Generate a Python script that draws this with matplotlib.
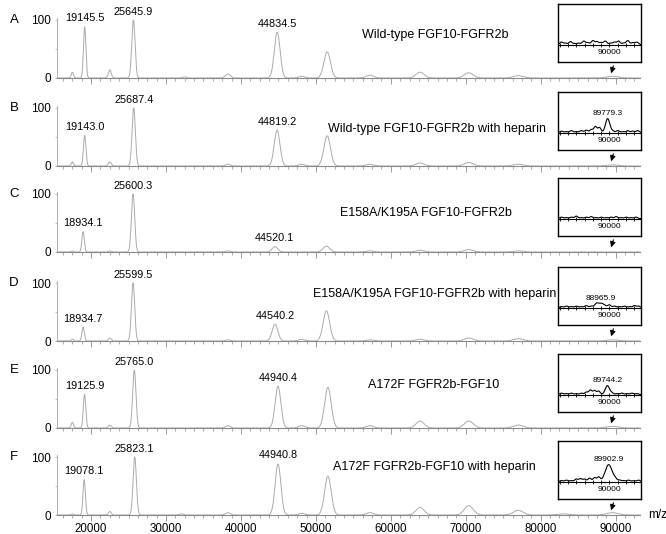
import numpy as np
import matplotlib
matplotlib.use('Agg')
import matplotlib.pyplot as plt
from matplotlib.ticker import MultipleLocator, FixedLocator

plt.rcParams['font.family'] = ['Liberation Sans', 'DejaVu Sans']

# ---------------- data ----------------
panel_letters = ['A', 'B', 'C', 'D', 'E', 'F']
titles = ['Wild-type FGF10-FGFR2b',
          'Wild-type FGF10-FGFR2b with heparin',
          'E158A/K195A FGF10-FGFR2b',
          'E158A/K195A FGF10-FGFR2b with heparin',
          'A172F FGFR2b-FGF10',
          'A172F FGFR2b-FGF10 with heparin']

# main spectra: peak m/z and relative intensity (%)
mz_A = [17500, 19145.5, 22500, 25645.9, 32500, 38250, 44834.5, 48100, 51500, 57200, 63900, 70400, 77000, 89600]
int_A = [10, 88, 14, 100, 2, 7, 79, 3, 45, 5, 10, 9, 4, 3]
mz_B = [17500, 19143.0, 22500, 25687.4, 38250, 44819.2, 48100, 51500, 57200, 63900, 70400, 77000, 89600]
int_B = [7, 53, 7, 100, 3, 62, 3, 52, 3, 5, 6, 3, 2]
mz_C = [17500, 18934.1, 22500, 25600.3, 38250, 44520.1, 51400, 57200, 63900, 70400, 77000]
int_C = [2, 35, 2, 100, 2, 9, 10, 2, 3, 4, 2]
mz_D = [17500, 18934.7, 22500, 25599.5, 38250, 44540.2, 48100, 51400, 57200, 63900, 70400, 77000, 89600]
int_D = [3, 24, 5, 100, 2, 29, 3, 52, 2, 3, 5, 4, 2]
mz_E = [17500, 19125.9, 22500, 25765.0, 38250, 44940.4, 48100, 51600, 57200, 63900, 70400, 77000, 89600]
int_E = [10, 58, 5, 100, 4, 72, 4, 70, 4, 12, 12, 5, 3]
mz_F = [17500, 19078.1, 22500, 25823.1, 32000, 38250, 44940.8, 48100, 51600, 57200, 63900, 70400, 77000, 83000, 89600]
int_F = [2, 61, 6, 100, 2, 4, 88, 3, 67, 4, 13, 16, 8, 2, 4]

# labelled peaks
lab_A = [19145.5, 25645.9, 44834.5]
lab_B = [19143.0, 25687.4, 44819.2]
lab_C = [18934.1, 25600.3, 44520.1]
lab_D = [18934.7, 25599.5, 44540.2]
lab_E = [19125.9, 25765.0, 44940.4]
lab_F = [19078.1, 25823.1, 44940.8]

# insets (zoom near 90000): small baseline bumps (m/z, height in pixel-scale units)
ins_mz_A = [84200, 84700, 85300, 85800, 86300, 86900, 87400, 88000, 88500, 89000, 89500, 90100, 90600, 91100, 91700, 92200, 92800, 93300]
ins_int_A = [2.5, 1.5, 3, 1, 1.5, 3.5, 2, 4, 3, 2, 3.5, 1.5, 2.5, 3.5, 1.5, 4, 2, 2.5]
ins_mz_B = [84200, 84800, 85400, 86000, 86600, 87200, 87800, 88300, 88800, 90400, 91000, 91600, 92200, 92800, 93400]
ins_int_B = [1.5, 1, 2, 1, 2, 2.5, 3, 6, 5, 1.5, 2, 1, 2, 1.5, 2]
ins_mz_C = [84200, 84800, 85400, 86000, 86600, 87200, 87800, 88400, 89000, 89600, 90200, 90800, 91400, 92000, 92600, 93200]
ins_int_C = [1.5, 1, 1.5, 2.5, 1, 1.5, 2, 1, 1.5, 1, 1.5, 2, 1, 1.5, 1, 1.5]
ins_mz_D = [84200, 84800, 85400, 86000, 86600, 87200, 87800, 88400, 90000, 90600, 91200, 91800, 92400, 93000, 93500]
ins_int_D = [1, 1.5, 1, 1.5, 1, 2, 1.5, 2.5, 2.5, 1.5, 1, 1.5, 1, 2, 1.5]
ins_mz_E = [84200, 84800, 85400, 86000, 86600, 87200, 87700, 88200, 88700, 90300, 90900, 91500, 92100, 92700, 93300]
ins_int_E = [1.5, 1, 1.5, 1, 1.5, 2.5, 4.5, 4, 3.5, 1.5, 1, 1.5, 1, 1.5, 1]
ins_mz_F = [84200, 84800, 85400, 86000, 86500, 87000, 87600, 88200, 88700, 90700, 91200, 91700, 92300, 92900, 93500]
ins_int_F = [1, 1.5, 1, 2.5, 3, 2.5, 3.5, 4, 4.5, 2, 1.5, 1, 1.5, 1, 1.5]
# insets: labelled main peak (m/z, height, width)
ins_peak_mz = [None, 89779.3, None, 88965.9, 89744.2, 89902.9]
ins_peak_int = [0, 14, 0, 4.5, 9, 17]
ins_peak_w = [1, 260, 1, 450, 260, 420]

x_ticks = [20000, 30000, 40000, 50000, 60000, 70000, 80000, 90000]

mz_list = [mz_A, mz_B, mz_C, mz_D, mz_E, mz_F]
int_list = [int_A, int_B, int_C, int_D, int_E, int_F]
lab_list = [lab_A, lab_B, lab_C, lab_D, lab_E, lab_F]
ins_mz_list = [ins_mz_A, ins_mz_B, ins_mz_C, ins_mz_D, ins_mz_E, ins_mz_F]
ins_int_list = [ins_int_A, ins_int_B, ins_int_C, ins_int_D, ins_int_E, ins_int_F]

# ---------------- layout ----------------
W, H = 666, 534
fig = plt.figure(figsize=(W / 100, H / 100), dpi=100)

baselines = [78, 166, 252, 341, 428, 515]   # pixel rows of 0 level
unit_h = 58                                  # pixels from 0 to 100
ax_left, ax_right = 57, 640
XMIN, XMAX = 15450, 93250
YTOP = 108

title_pos = [(362, 35), (328, 129), (340, 213), (313, 294), (368, 385), (333, 467)]

grey_line = '#ababab'
axis_grey = '#8a8a8a'


def fx(px):
    return px / W


def fy(py):
    return 1 - py / H


def spectrum(x, mz, inten, rel_w):
    y = np.zeros(len(x), dtype=float)
    for m, h in zip(mz, inten):
        s = rel_w * m
        y += h * np.exp(-0.5 * ((x - m) / s) ** 2)
    return y


def bumps(x, mz, inten, s):
    y = np.zeros(len(x), dtype=float)
    for m, h in zip(mz, inten):
        y += h * np.exp(-0.5 * ((x - m) / s) ** 2)
    return y


x = np.linspace(XMIN, XMAX, 8000)

for i in range(6):
    b = baselines[i]
    top_px = b - unit_h * YTOP / 100
    ax = fig.add_axes([fx(ax_left), fy(b), fx(ax_right - ax_left), (b - top_px) / H])
    ax.set_xlim(XMIN, XMAX)
    ax.set_ylim(0, YTOP)
    y = spectrum(x, mz_list[i], int_list[i], 0.0085)
    ax.plot(x, y, color=grey_line, lw=0.7, clip_on=False)

    for s in ['top', 'right']:
        ax.spines[s].set_visible(False)
    ax.spines['left'].set_color('#b0b0b0')
    ax.spines['left'].set_linewidth(0.7)
    ax.spines['left'].set_bounds(0, 104)
    ax.spines['bottom'].set_color(axis_grey)
    ax.spines['bottom'].set_linewidth(0.8)

    ax.yaxis.set_major_locator(FixedLocator([0, 50, 100]))
    ax.set_yticklabels(['0', '', '100'], fontsize=8.5)
    ax.tick_params(axis='y', length=1.5, width=0.6, color='#b0b0b0', pad=3)

    ax.xaxis.set_major_locator(FixedLocator(x_ticks))
    ax.xaxis.set_minor_locator(MultipleLocator(1250))
    ax.tick_params(axis='x', which='major', length=4, width=0.6, color=axis_grey, labelsize=8.3, pad=2)
    ax.tick_params(axis='x', which='minor', length=2, width=0.5, color=axis_grey)
    if i < 5:
        ax.set_xticklabels([])
    else:
        ax.set_xticklabels([str(t) for t in x_ticks])

    # peak labels
    for m in lab_list[i]:
        idx = int(np.argmin(np.abs(np.array(mz_list[i]) - m)))
        h = int_list[i][idx]
        ax.annotate(f'{m:.1f}', xy=(m, h), xytext=(0, 2.5), textcoords='offset points',
                    ha='center', va='bottom', fontsize=7.8, annotation_clip=False)

    # letters & titles
    fig.text(fx(14), fy(b - unit_h), panel_letters[i], ha='center', va='center', fontsize=9.5)
    tx, ty = title_pos[i]
    fig.text(fx(tx), fy(ty), titles[i], ha='left', va='center', fontsize=9)

    # arrow below the inset box
    ax.annotate('', xy=(89400, 8), xytext=(89700, 21),
                arrowprops=dict(arrowstyle='-|>', color='black', lw=0.8,
                                mutation_scale=8, shrinkA=0, shrinkB=0),
                annotation_clip=False)

    # inset
    box_top = b - 74
    box_bot = b - 16
    bl, br = 558, 641
    axi = fig.add_axes([fx(bl), fy(box_bot), fx(br - bl), (box_bot - box_top) / H])
    IXMIN, IXMAX = 83800, 93800
    f0 = 0.3
    hpx = box_bot - box_top
    axi.set_xlim(IXMIN, IXMAX)
    axi.set_ylim(-f0 * hpx, (1 - f0) * hpx)
    xi = np.linspace(IXMIN, IXMAX, 1500)
    yi = bumps(xi, ins_mz_list[i], ins_int_list[i], 190)
    if ins_peak_mz[i] is not None:
        yi += bumps(xi, [ins_peak_mz[i]], [ins_peak_int[i]], ins_peak_w[i])
    axi.plot(xi, yi, color='black', lw=0.8)
    axi.set_xticks([])
    axi.set_yticks([])
    for s in axi.spines.values():
        s.set_linewidth(1.0)
        s.set_color('black')
    sec = axi.secondary_xaxis(f0)
    sec.set_xticks([90000])
    sec.set_xticklabels(['90000'])
    sec.xaxis.set_minor_locator(MultipleLocator(1000))
    sec.tick_params(which='major', direction='inout', length=3, width=0.6, labelsize=6, pad=1.5)
    sec.tick_params(which='minor', direction='inout', length=3, width=0.6)
    sec.spines['bottom'].set_linewidth(0.8)
    if ins_peak_mz[i] is not None:
        lm = ins_peak_mz[i]
        hh = float(np.interp(lm, xi, yi))
        axi.annotate(f'{lm:.1f}', xy=(lm, hh), xytext=(0, 1), textcoords='offset points',
                     ha='center', va='bottom', fontsize=6)

fig.text(fx(648), fy(515), 'm/z', ha='left', va='center', fontsize=8.5)

fig.savefig('out.png', dpi=100)
